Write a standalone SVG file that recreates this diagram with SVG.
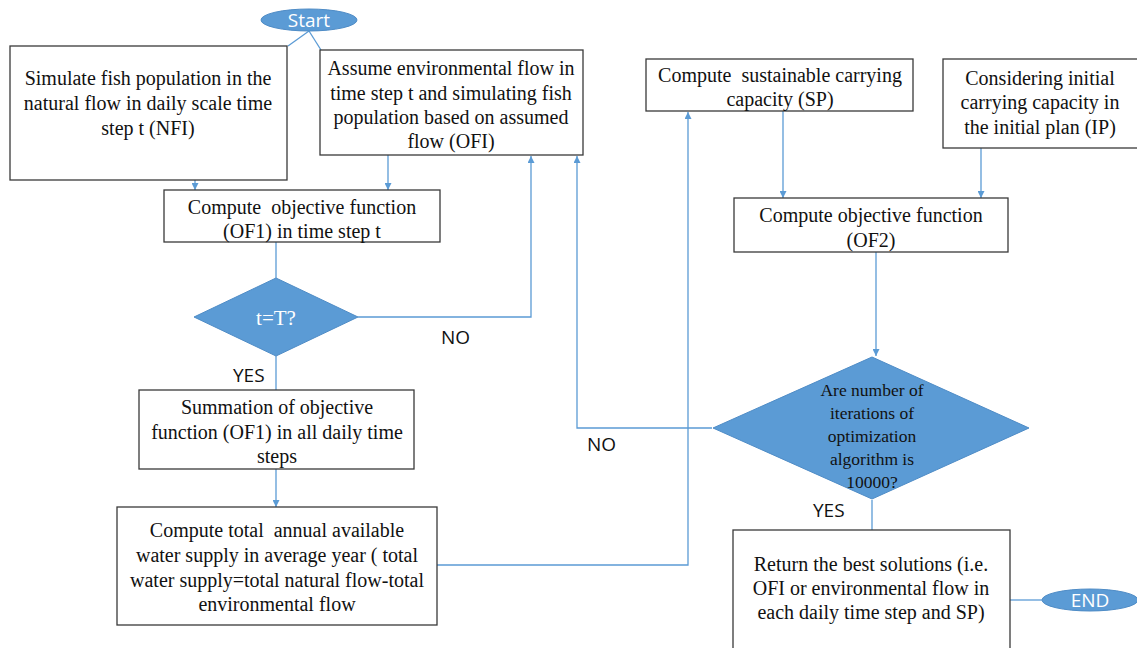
<svg xmlns="http://www.w3.org/2000/svg" width="1137" height="648" viewBox="0 0 1137 648">
<style>
.box{fill:#fff;stroke:#3a3a3a;stroke-width:1.3}
.t{font-family:"Liberation Serif","Times New Roman",serif;font-size:20px;fill:#111;text-anchor:middle;white-space:pre}
.dt{font-family:"Liberation Serif","Times New Roman",serif;font-size:17.5px;fill:#111;text-anchor:middle}
.dia{fill:#5b9bd5;stroke:#4f8cc6;stroke-width:1}
.term{fill:#5b9bd5;stroke:#4f8cc6;stroke-width:1}
.wt{font-family:"Open Sans","Liberation Sans",sans-serif;font-size:19px;fill:#fff;text-anchor:middle}
.lbl{font-family:"Open Sans","Liberation Sans",sans-serif;font-size:19px;fill:#111}
.c{fill:none;stroke:#5b9bd5;stroke-width:1.3}
</style>
<defs>
<marker id="ah" viewBox="0 0 10 10" refX="10" refY="5" markerWidth="7" markerHeight="7" orient="auto" markerUnits="userSpaceOnUse">
<path d="M0,0 L10,5 L0,10 z" fill="#5b9bd5"/>
</marker>
</defs>
<rect width="1137" height="648" fill="#fff"/>
<g id="connectors">
<path class="c" d="M309,31 L288,46"/>
<path class="c" d="M309,31 L321,50"/>
<path class="c" d="M195,180 L195,190" marker-end="url(#ah)"/>
<path class="c" d="M388,155 L388,190" marker-end="url(#ah)"/>
<path class="c" d="M276,242 L276,278"/>
<path class="c" d="M358,317 L531,317 L531,156" marker-end="url(#ah)"/>
<path class="c" d="M712,428 L577,428 L577,156" marker-end="url(#ah)"/>
<path class="c" d="M276,356 L276,390"/>
<path class="c" d="M276,469 L276,507" marker-end="url(#ah)"/>
<path class="c" d="M437,565 L688,565 L688,112" marker-end="url(#ah)"/>
<path class="c" d="M783,111 L783,198" marker-end="url(#ah)"/>
<path class="c" d="M981,148 L981,198" marker-end="url(#ah)"/>
<path class="c" d="M876,252 L876,356" marker-end="url(#ah)"/>
<path class="c" d="M872,500 L872,530"/>
<path class="c" d="M1010,600 L1042,600"/>
</g>
<g id="start">
<ellipse class="term" cx="309" cy="20" rx="48" ry="11"/>
<text class="wt" x="309" y="27">Start</text>
</g>
<g id="nfi">
<rect class="box" x="10" y="46" width="277" height="134"/>
<text class="t" x="148" y="85">Simulate fish population in the</text>
<text class="t" x="148" y="110">natural flow in daily scale time</text>
<text class="t" x="148" y="135">step t (NFI)</text>
</g>
<g id="ofi">
<rect class="box" x="320" y="50" width="263" height="105"/>
<text class="t" x="451" y="75">Assume environmental flow in</text>
<text class="t" x="451" y="100">time step t and simulating fish</text>
<text class="t" x="451" y="124">population based on assumed</text>
<text class="t" x="451" y="148">flow (OFI)</text>
</g>
<g id="of1">
<rect class="box" x="164" y="190" width="276" height="52"/>
<text class="t" x="302" y="214">Compute  objective function</text>
<text class="t" x="302" y="238">(OF1) in time step t</text>
</g>
<g id="dec1">
<polygon class="dia" points="276,278 358,317 276,356 194,317"/>
<text class="wt" x="276" y="325" style="font-family:'Liberation Serif','Times New Roman',serif;font-size:21px">t=T?</text>
</g>
<text class="lbl" x="441" y="344">NO</text>
<text class="lbl" x="233" y="382">YES</text>
<g id="sum">
<rect class="box" x="139" y="390" width="275" height="79"/>
<text class="t" x="277" y="414">Summation of objective</text>
<text class="t" x="277" y="439">function (OF1) in all daily time</text>
<text class="t" x="277" y="463">steps</text>
</g>
<g id="supply">
<rect class="box" x="117" y="507" width="320" height="118"/>
<text class="t" x="277" y="537">Compute total  annual available</text>
<text class="t" x="277" y="562">water supply in average year ( total</text>
<text class="t" x="277" y="587">water supply=total natural flow-total</text>
<text class="t" x="277" y="611">environmental flow</text>
</g>
<g id="sp">
<rect class="box" x="646" y="59" width="267" height="52"/>
<text class="t" x="780" y="82">Compute  sustainable carrying</text>
<text class="t" x="780" y="106">capacity (SP)</text>
</g>
<g id="ip">
<rect class="box" x="943" y="59" width="200" height="89"/>
<text class="t" x="1040" y="85">Considering initial</text>
<text class="t" x="1040" y="109">carrying capacity in</text>
<text class="t" x="1040" y="134">the initial plan (IP)</text>
</g>
<g id="of2">
<rect class="box" x="734" y="198" width="274" height="54"/>
<text class="t" x="871" y="222">Compute objective function</text>
<text class="t" x="871" y="247">(OF2)</text>
</g>
<g id="dec2">
<polygon class="dia" points="872,357 1029,428 872,499 713,428"/>
<text class="dt" x="872" y="396">Are number of</text>
<text class="dt" x="872" y="419">iterations of</text>
<text class="dt" x="872" y="442">optimization</text>
<text class="dt" x="872" y="465">algorithm is</text>
<text class="dt" x="872" y="488">10000?</text>
</g>
<text class="lbl" x="587" y="451">NO</text>
<text class="lbl" x="813" y="517">YES</text>
<g id="ret">
<rect class="box" x="733" y="530" width="277" height="125"/>
<text class="t" x="871" y="571">Return the best solutions (i.e.</text>
<text class="t" x="871" y="595">OFI or environmental flow in</text>
<text class="t" x="871" y="619">each daily time step and SP)</text>
</g>
<g id="end">
<ellipse class="term" cx="1090" cy="600" rx="48" ry="11"/>
<text class="wt" x="1090" y="607">END</text>
</g>
</svg>
